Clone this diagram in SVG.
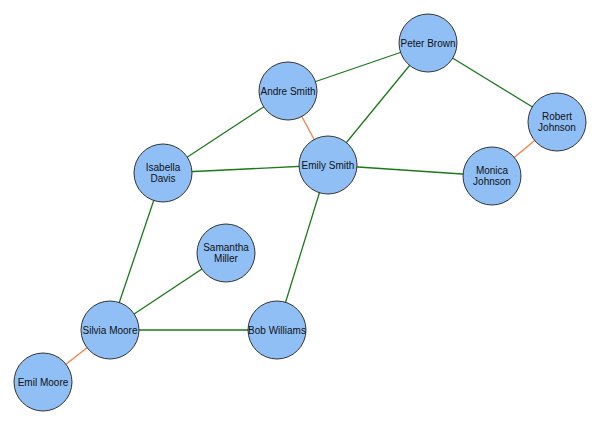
<svg xmlns="http://www.w3.org/2000/svg" width="600" height="426" viewBox="0 0 600 426">
<style>
.n circle{fill:#90bff5;stroke:#333;stroke-width:1}
.n text{font-family:"Liberation Sans",Arial,sans-serif;font-size:10px;fill:#111;text-anchor:middle}
.g{stroke:#1a7a1a;stroke-width:1.3}
.o{stroke:#f08050;stroke-width:1.3}
</style>
<rect width="600" height="426" fill="#fff"/>
<g id="edges">
<line class="g" x1="288" y1="91" x2="428" y2="43"/>
<line class="g" x1="428" y1="43" x2="328" y2="165"/>
<line class="g" x1="428" y1="43" x2="557" y2="122"/>
<line class="g" x1="288" y1="91" x2="163" y2="173"/>
<line class="g" x1="163" y1="173" x2="328" y2="165"/>
<line class="g" x1="328" y1="165" x2="492" y2="176"/>
<line class="g" x1="328" y1="165" x2="277" y2="330"/>
<line class="g" x1="163" y1="173" x2="110" y2="330"/>
<line class="g" x1="110" y1="330" x2="226" y2="253"/>
<line class="g" x1="110" y1="330" x2="277" y2="330"/>
<line class="o" x1="288" y1="91" x2="328" y2="165"/>
<line class="o" x1="557" y1="122" x2="492" y2="176"/>
<line class="o" x1="110" y1="330" x2="43" y2="382"/>
</g>
<g id="peter" class="n"><circle cx="428" cy="43" r="29"/><text x="428" y="47">Peter Brown</text></g>
<g id="andre" class="n"><circle cx="288" cy="91" r="29"/><text x="288" y="95">Andre Smith</text></g>
<g id="robert" class="n"><circle cx="557" cy="122" r="29"/><text x="557" y="120">Robert</text><text x="557" y="131">Johnson</text></g>
<g id="isabella" class="n"><circle cx="163" cy="173" r="29"/><text x="163" y="171">Isabella</text><text x="163" y="182">Davis</text></g>
<g id="emily" class="n"><circle cx="328" cy="165" r="29"/><text x="328" y="169">Emily Smith</text></g>
<g id="monica" class="n"><circle cx="492" cy="176" r="29"/><text x="492" y="174">Monica</text><text x="492" y="185">Johnson</text></g>
<g id="samantha" class="n"><circle cx="226" cy="253" r="29"/><text x="226" y="251">Samantha</text><text x="226" y="262">Miller</text></g>
<g id="silvia" class="n"><circle cx="110" cy="330" r="29"/><text x="110" y="334">Silvia Moore</text></g>
<g id="bob" class="n"><circle cx="277" cy="330" r="29"/><text x="277" y="334">Bob Williams</text></g>
<g id="emil" class="n"><circle cx="43" cy="382" r="29"/><text x="43" y="386">Emil Moore</text></g>
</svg>
